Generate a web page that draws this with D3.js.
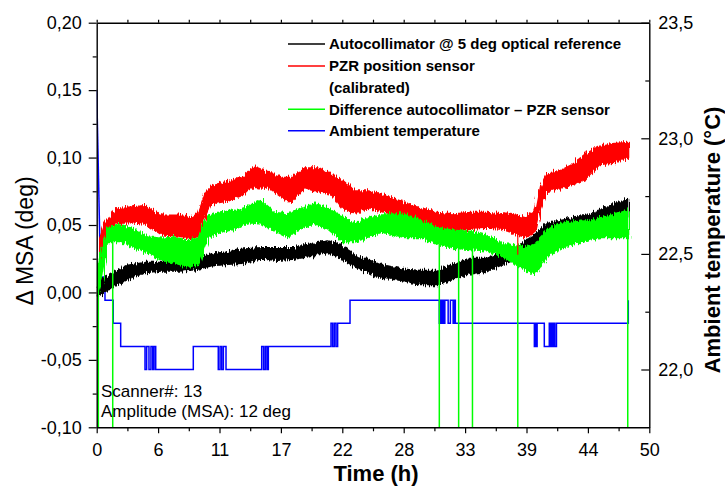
<!DOCTYPE html>
<html>
  <head>
    <meta charset="utf-8">
    <script src="https://d3js.org/d3.v7.min.js"></script>
    <style>
      body { margin: 0; background: #fff; }
      text { font-family: "Liberation Sans", Arial, sans-serif; fill: #000; }
    </style>
  </head>
  <body>
    <div id="plot"></div>
    <script>

    // ---- data ----
    // x axis ticks (9 equal steps over 0..50 h, labels rounded)
    const xTickLabels = ["0", "6", "11", "17", "22", "28", "33", "39", "44", "50"];
    const yLeftTicks = [-0.10, -0.05, 0.00, 0.05, 0.10, 0.15, 0.20];
    const yLeftLabels = ["-0,10", "-0,05", "0,00", "0,05", "0,10", "0,15", "0,20"];
    const yRightTicks = [22.0, 22.5, 23.0, 23.5];
    const yRightLabels = ["22,0", "22,5", "23,0", "23,5"];

    // noisy traces as envelopes: [time h, low, high] in deg
    const autocollimator = [
      [0.0, -0.003, 0.003], [0.45, -0.001, 0.009], [1.65, 0.005, 0.015], [2.86, 0.010, 0.020],
      [4.37, 0.015, 0.022], [5.88, 0.016, 0.022], [7.38, 0.016, 0.024], [8.9, 0.017, 0.025],
      [10.4, 0.020, 0.028], [11.9, 0.021, 0.030], [13.4, 0.022, 0.032], [14.9, 0.025, 0.033],
      [16.4, 0.024, 0.033], [17.9, 0.025, 0.033], [19.4, 0.027, 0.036], [20.95, 0.030, 0.038],
      [22.2, 0.025, 0.035], [23.4, 0.019, 0.027], [24.6, 0.015, 0.024], [25.5, 0.011, 0.021],
      [27.7, 0.009, 0.017], [29.25, 0.006, 0.016], [30.8, 0.006, 0.016], [32.3, 0.010, 0.021],
      [33.8, 0.014, 0.025], [35.3, 0.016, 0.025], [36.8, 0.021, 0.029], [38.3, 0.026, 0.035],
      [39.7, 0.031, 0.043], [40.7, 0.041, 0.051], [41.9, 0.041, 0.053], [43.1, 0.044, 0.055],
      [44.3, 0.046, 0.057], [45.8, 0.051, 0.062], [47.0, 0.056, 0.066], [48.1, 0.056, 0.069]
    ];
    const pzrSensor = [
      [0.3, 0.025, 0.040], [0.75, 0.044, 0.051], [1.65, 0.051, 0.061], [2.86, 0.052, 0.063],
      [4.37, 0.051, 0.064], [5.88, 0.043, 0.057], [7.38, 0.042, 0.057], [8.6, 0.040, 0.055],
      [9.2, 0.043, 0.059], [9.8, 0.056, 0.073], [10.4, 0.066, 0.079], [11.9, 0.068, 0.082],
      [13.1, 0.072, 0.085], [14.3, 0.079, 0.093], [15.5, 0.078, 0.089], [16.7, 0.071, 0.085],
      [17.6, 0.067, 0.085], [18.8, 0.078, 0.092], [20.0, 0.075, 0.092], [21.3, 0.073, 0.088],
      [22.2, 0.063, 0.083], [23.4, 0.059, 0.075], [24.6, 0.063, 0.075], [25.8, 0.061, 0.072],
      [27.7, 0.056, 0.067], [29.25, 0.052, 0.062], [30.8, 0.046, 0.059], [32.3, 0.046, 0.058],
      [33.8, 0.047, 0.059], [35.3, 0.048, 0.059], [36.8, 0.047, 0.058], [38.0, 0.043, 0.057],
      [38.9, 0.041, 0.056], [39.7, 0.046, 0.061], [40.1, 0.061, 0.078], [40.7, 0.075, 0.088],
      [41.9, 0.077, 0.090], [43.1, 0.080, 0.095], [44.3, 0.085, 0.103], [45.5, 0.095, 0.108],
      [46.7, 0.096, 0.110], [48.1, 0.100, 0.111]
    ];
    const difference = [
      [0.1, 0.000, 0.015], [0.45, 0.009, 0.033], [1.05, 0.038, 0.048], [2.26, 0.038, 0.050],
      [3.47, 0.033, 0.046], [4.67, 0.029, 0.041], [5.88, 0.024, 0.040], [7.08, 0.022, 0.041],
      [8.29, 0.019, 0.038], [9.2, 0.021, 0.041], [10.1, 0.041, 0.057], [11.3, 0.045, 0.059],
      [12.5, 0.047, 0.061], [13.7, 0.052, 0.064], [14.9, 0.051, 0.068], [16.1, 0.046, 0.059],
      [17.3, 0.041, 0.058], [18.5, 0.048, 0.062], [19.75, 0.051, 0.066], [20.95, 0.047, 0.062],
      [22.2, 0.038, 0.056], [23.4, 0.038, 0.051], [24.6, 0.041, 0.056], [25.8, 0.045, 0.058],
      [27.7, 0.041, 0.058], [29.25, 0.041, 0.053], [30.8, 0.036, 0.048], [32.3, 0.033, 0.046],
      [33.8, 0.032, 0.045], [35.3, 0.031, 0.042], [36.8, 0.026, 0.036], [38.0, 0.021, 0.035],
      [38.9, 0.016, 0.033], [39.7, 0.014, 0.036], [40.7, 0.026, 0.046], [41.9, 0.033, 0.051],
      [43.1, 0.036, 0.052], [44.3, 0.038, 0.053], [45.5, 0.041, 0.055], [46.7, 0.041, 0.057],
      [48.1, 0.041, 0.061]
    ];
    // single-sample drop-outs: [time h, from, to]
    const differenceDrops = [
      [0.15, 0.010, -0.10], [1.45, 0.040, -0.10], [31.0, 0.036, -0.10], [32.75, 0.033, -0.10],
      [34.0, 0.032, -0.10], [38.1, 0.021, -0.10], [48.05, 0.041, -0.10]
    ];
    const pzrDrops = [[38.1, 0.043, 0.028]];

    // ambient temperature (right axis, degC)
    const tempStart = [[0, 23.21], [0.35, 22.4]];
    const tempSteps = [
      [0.35, 22.4], [0.75, 22.3], [1.5, 22.2], [2.17, 22.1],
      [4.37, 22.0], [4.52, 22.1], [4.73, 22.0], [4.91, 22.1], [5.07, 22.0], [5.19, 22.1], [5.34, 22.0],
      [8.74, 22.1],
      [11.0, 22.0], [11.16, 22.1], [11.31, 22.0], [11.46, 22.1], [11.7, 22.0],
      [14.93, 22.1], [15.1, 22.0], [15.25, 22.1], [15.4, 22.0], [15.53, 22.1],
      [21.2, 22.2], [21.35, 22.1], [21.5, 22.2], [21.65, 22.1], [21.8, 22.2],
      [22.92, 22.3],
      [31.0, 22.2], [31.1, 22.3], [31.2, 22.2], [31.3, 22.3], [31.4, 22.2], [31.5, 22.3],
      [31.8, 22.2], [32.0, 22.3], [32.25, 22.2], [32.35, 22.3], [32.45, 22.2],
      [39.6, 22.1], [39.7, 22.2], [39.75, 22.1], [39.85, 22.2],
      [40.5, 22.1], [40.95, 22.2], [41.0, 22.1], [41.1, 22.2], [41.15, 22.1], [41.25, 22.2],
      [41.3, 22.1], [41.4, 22.2], [41.45, 22.1], [41.6, 22.2],
      [48.1, 22.3]
    ];

    const legendItems = [
      { label: ["Autocollimator @ 5 deg optical reference"], color: "#000000" },
      { label: ["PZR position sensor", "(calibrated)"], color: "#ff0000" },
      { label: ["Difference autocollimator \u2013 PZR sensor"], color: "#00ff00" },
      { label: ["Ambient temperature"], color: "#0000ff" }
    ];
    const notes = ["Scanner#: 13", "Amplitude (MSA): 12 deg"];

    // ---- layout ----
    const W = 725, H = 487;
    const mLeft = 96.7, mRight = 649.3, mTop = 22.7, mBottom = 427.3;

    const svg = d3.select("#plot").append("svg")
      .attr("width", W)
      .attr("height", H);

    const x = d3.scaleLinear().domain([0, 50]).range([mLeft, mRight]);
    const yL = d3.scaleLinear().domain([-0.10, 0.20]).range([mBottom, mTop]);
    const yR = d3.scaleLinear().domain([21.75, 23.5]).range([mBottom, mTop]);

    const xTickVals = xTickLabels.map((d, i) => i * 50 / 9);
    const xMinor = xTickVals.slice(1).map((d, i) => (d + xTickVals[i]) / 2);

    const defs = svg.append("defs");
    defs.append("clipPath").attr("id", "clip")
      .append("rect")
        .attr("x", mLeft).attr("y", mTop)
        .attr("width", mRight - mLeft).attr("height", mBottom - mTop);

    // jagged edge look for the dense noisy traces (style only)
    const rough = defs.append("filter").attr("id", "rough")
      .attr("x", "-2%").attr("y", "-30%").attr("width", "104%").attr("height", "160%");
    rough.append("feTurbulence")
      .attr("type", "fractalNoise").attr("baseFrequency", "0.9 0.03")
      .attr("numOctaves", 2).attr("seed", 4).attr("result", "n");
    rough.append("feDisplacementMap")
      .attr("in", "SourceGraphic").attr("in2", "n").attr("scale", 8)
      .attr("xChannelSelector", "G").attr("yChannelSelector", "R");

    const plot = svg.append("g").attr("clip-path", "url(#clip)");

    // temperature
    plot.append("path")
      .datum(tempStart)
      .attr("d", d3.line().x(d => x(d[0])).y(d => yR(d[1])))
      .attr("fill", "none").attr("stroke", "#0000ff").attr("stroke-width", 1.5);
    plot.append("path")
      .datum(tempSteps)
      .attr("d", d3.line().curve(d3.curveStepAfter).x(d => x(d[0])).y(d => yR(d[1])))
      .attr("fill", "none").attr("stroke", "#0000ff").attr("stroke-width", 1.5);

    const band = d3.area()
      .x(d => x(d[0]))
      .y0(d => yL(d[1]))
      .y1(d => yL(d[2]));

    [[autocollimator, "#000000"], [pzrSensor, "#ff0000"], [difference, "#00ff00"]].forEach(s => {
      plot.append("g").attr("filter", "url(#rough)")
        .append("path")
          .datum(s[0])
          .attr("d", band)
          .attr("fill", s[1])
          .attr("stroke", s[1])
          .attr("stroke-width", 2)
          .attr("stroke-linejoin", "round");
    });

    plot.selectAll(".pzrdrop")
      .data(pzrDrops)
      .enter().append("line")
        .attr("x1", d => x(d[0])).attr("x2", d => x(d[0]))
        .attr("y1", d => yL(d[1])).attr("y2", d => yL(d[2]))
        .attr("stroke", "#ff0000").attr("stroke-width", 1.2);

    plot.selectAll(".drop")
      .data(differenceDrops)
      .enter().append("line")
        .attr("x1", d => x(d[0])).attr("x2", d => x(d[0]))
        .attr("y1", d => yL(d[1])).attr("y2", d => yL(d[2]))
        .attr("stroke", "#00ff00").attr("stroke-width", 1.5);

    // ---- axes ----
    function styleAxis(g, fs) {
      g.select(".domain").attr("stroke", "#000").attr("stroke-width", 1.4);
      g.selectAll(".tick line").attr("stroke", "#000").attr("stroke-width", 1.2);
      g.selectAll("text").attr("font-size", fs).attr("font-family", "Liberation Sans, Arial, sans-serif");
    }

    svg.append("g")
      .attr("transform", "translate(0," + mBottom + ")")
      .call(d3.axisBottom(x).tickValues(xTickVals).tickFormat((d, i) => xTickLabels[i])
        .tickSizeInner(6).tickSizeOuter(0).tickPadding(10))
      .call(g => styleAxis(g, "18px"));
    svg.append("g")
      .attr("transform", "translate(0," + mBottom + ")")
      .call(d3.axisBottom(x).tickValues(xMinor).tickFormat("").tickSize(4))
      .call(g => { styleAxis(g, "18px"); g.select(".domain").remove(); });

    // top frame axis
    svg.append("g")
      .attr("transform", "translate(0," + mTop + ")")
      .call(d3.axisTop(x).tickValues(xTickVals.concat(xMinor)).tickFormat("").tickSizeInner(3).tickSizeOuter(0))
      .call(g => styleAxis(g, "18px"));

    svg.append("g")
      .attr("transform", "translate(" + mLeft + ",0)")
      .call(d3.axisLeft(yL).tickValues(yLeftTicks).tickFormat((d, i) => yLeftLabels[i])
        .tickSizeInner(8).tickSizeOuter(0).tickPadding(7))
      .call(g => styleAxis(g, "18px"));
    svg.append("g")
      .attr("transform", "translate(" + mLeft + ",0)")
      .call(d3.axisLeft(yL).tickValues(yLeftTicks.slice(1).map((d, i) => (d + yLeftTicks[i]) / 2))
        .tickFormat("").tickSize(4))
      .call(g => { styleAxis(g, "18px"); g.select(".domain").remove(); });

    svg.append("g")
      .attr("transform", "translate(" + mRight + ",0)")
      .call(d3.axisRight(yR).tickValues(yRightTicks).tickFormat((d, i) => yRightLabels[i])
        .tickSizeInner(-8).tickSizeOuter(0).tickPadding(9))
      .call(g => styleAxis(g, "18px"));
    svg.append("g")
      .attr("transform", "translate(" + mRight + ",0)")
      .call(d3.axisRight(yR).tickValues([22.25, 22.75, 23.25]).tickFormat("").tickSize(-4))
      .call(g => { styleAxis(g, "18px"); g.select(".domain").remove(); });

    // ---- axis titles ----
    svg.append("text")
      .text("Time (h)")
      .attr("x", (mLeft + mRight) / 2 + 3)
      .attr("y", 481)
      .attr("text-anchor", "middle")
      .style("font-size", "22px")
      .style("font-weight", "bold");

    svg.append("text")
      .text("\u0394 MSA (deg)")
      .attr("transform", "translate(33,241) rotate(-90)")
      .attr("text-anchor", "middle")
      .style("font-size", "23px");

    svg.append("text")
      .text("Ambient temperature (\u00b0C)")
      .attr("transform", "translate(720,240) rotate(-90)")
      .attr("text-anchor", "middle")
      .style("font-size", "22px")
      .style("font-weight", "bold");

    // ---- legend ----
    const rowY = [44, 66, 109.3, 130.7];
    const leg = svg.append("g");
    legendItems.forEach((item, i) => {
      leg.append("line")
        .attr("x1", 288).attr("x2", 325)
        .attr("y1", rowY[i]).attr("y2", rowY[i])
        .attr("stroke", item.color).attr("stroke-width", 1.6);
      item.label.forEach((t, j) => {
        leg.append("text")
          .text(t)
          .attr("x", 329)
          .attr("y", rowY[i] + 5.3 + j * 22)
          .style("font-size", "15px")
          .style("font-weight", "bold");
      });
    });

    // ---- notes ----
    notes.forEach((t, i) => {
      svg.append("text")
        .text(t)
        .attr("x", 101)
        .attr("y", 397 + i * 20)
        .style("font-size", "17px");
    });

    </script>
  </body>
</html>
